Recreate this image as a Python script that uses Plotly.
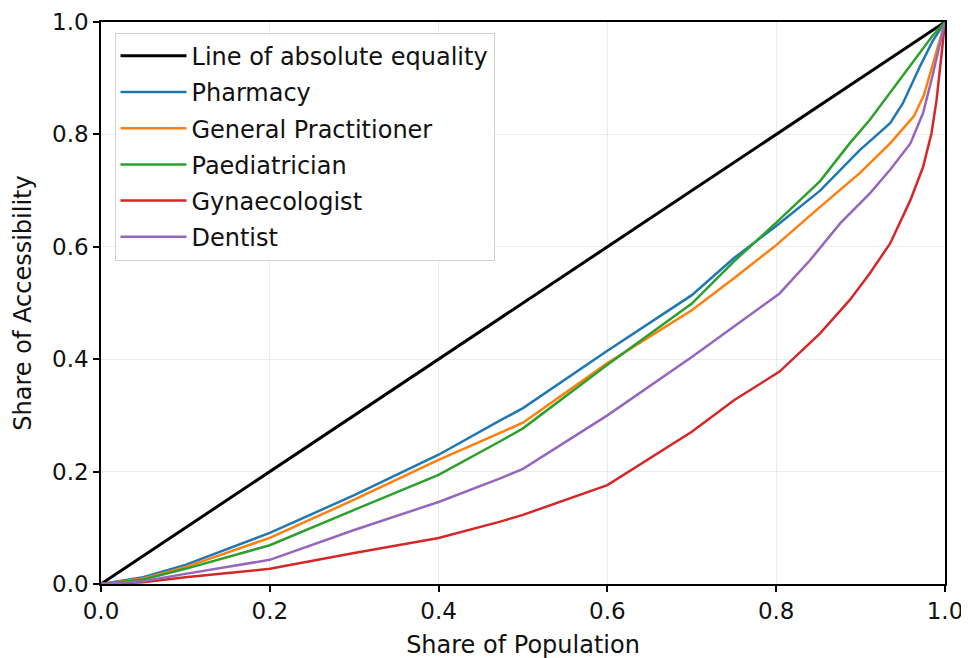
import plotly.graph_objects as go

# Line of absolute equality
eq_x = [0.0, 1.0]
eq_y = [0.0, 1.0]

# Pharmacy
pharm_x = [0.0, 0.05, 0.1, 0.2, 0.3, 0.4, 0.473, 0.5, 0.6, 0.7, 0.75, 0.8, 0.852, 0.899, 0.935, 0.95, 0.97, 0.985, 1.0]
pharm_y = [0.0, 0.012, 0.034, 0.091, 0.158, 0.230, 0.291, 0.313, 0.415, 0.514, 0.580, 0.637, 0.700, 0.772, 0.820, 0.855, 0.920, 0.965, 1.0]

# General Practitioner
gp_x = [0.0, 0.05, 0.1, 0.2, 0.3, 0.4, 0.473, 0.5, 0.6, 0.7, 0.75, 0.8, 0.852, 0.899, 0.935, 0.963, 0.975, 0.988, 1.0]
gp_y = [0.0, 0.010, 0.030, 0.082, 0.150, 0.221, 0.269, 0.287, 0.393, 0.487, 0.544, 0.603, 0.671, 0.731, 0.784, 0.832, 0.870, 0.940, 1.0]

# Paediatrician
paed_x = [0.0, 0.05, 0.1, 0.2, 0.3, 0.4, 0.473, 0.5, 0.6, 0.7, 0.75, 0.8, 0.852, 0.887, 0.911, 0.94, 0.97, 0.985, 1.0]
paed_y = [0.0, 0.008, 0.027, 0.069, 0.132, 0.194, 0.254, 0.277, 0.390, 0.499, 0.574, 0.643, 0.717, 0.784, 0.826, 0.885, 0.945, 0.975, 1.0]

# Gynaecologist
gyn_x = [0.0, 0.05, 0.1, 0.2, 0.3, 0.4, 0.473, 0.5, 0.6, 0.7, 0.75, 0.804, 0.852, 0.887, 0.911, 0.935, 0.959, 0.974, 0.984, 0.99, 0.995, 1.0]
gyn_y = [0.0, 0.003, 0.012, 0.027, 0.055, 0.082, 0.111, 0.123, 0.176, 0.271, 0.327, 0.378, 0.446, 0.505, 0.553, 0.606, 0.683, 0.742, 0.802, 0.861, 0.930, 1.0]

# Dentist
dent_x = [0.0, 0.05, 0.1, 0.2, 0.3, 0.4, 0.473, 0.5, 0.6, 0.7, 0.75, 0.804, 0.84, 0.876, 0.911, 0.935, 0.959, 0.974, 0.985, 1.0]
dent_y = [0.0, 0.005, 0.018, 0.043, 0.096, 0.146, 0.188, 0.205, 0.300, 0.404, 0.458, 0.517, 0.576, 0.642, 0.695, 0.737, 0.784, 0.838, 0.903, 1.0]

series = [
    ("Line of absolute equality", eq_x, eq_y, "#000000", 3),
    ("Pharmacy", pharm_x, pharm_y, "#1f77b4", 2.5),
    ("General Practitioner", gp_x, gp_y, "#ff7f0e", 2.5),
    ("Paediatrician", paed_x, paed_y, "#2ca02c", 2.5),
    ("Gynaecologist", gyn_x, gyn_y, "#d62728", 2.5),
    ("Dentist", dent_x, dent_y, "#9467bd", 2.5),
]

fig = go.Figure()
for i, (name, xs, ys, col, w) in enumerate(series):
    fig.add_trace(go.Scatter(x=xs, y=ys, mode="lines", name=name,
                             line=dict(color=col, width=w),
                             legendgroup=f"g{i}"))

font_family = "DejaVu Sans"
fs_tick = 23
fs = 24
txt = "#111111"
axis_common = dict(
    range=[0, 1], dtick=0.2, tick0=0, tickformat=".1f",
    showline=True, linecolor="#000000", linewidth=1.5, mirror=True,
    ticks="outside", ticklen=6, tickwidth=1.5, tickcolor="#000000",
    showgrid=True, gridcolor="#ebebeb", gridwidth=1,
    zeroline=False, automargin=False,
    tickfont=dict(family=font_family, size=fs_tick, color=txt),
)

fig.update_layout(
    width=969, height=658,
    margin=dict(l=93, r=32, t=14, b=82),
    paper_bgcolor="white", plot_bgcolor="white",
    font=dict(family=font_family, size=fs, color=txt),
    showlegend=True,
    legend=dict(x=0.016, y=0.981, xanchor="left", yanchor="top",
                bgcolor="rgba(255,255,255,0.85)", bordercolor="#d0d0d0", borderwidth=1,
                font=dict(family=font_family, size=fs, color=txt),
                itemwidth=66,
                tracegroupgap=2, traceorder="grouped"),
    xaxis=dict(title=dict(text="Share of Population", standoff=13,
                          font=dict(family=font_family, size=fs, color=txt)),
               **axis_common),
    yaxis=dict(title=dict(text="Share of Accessibility", standoff=14,
                          font=dict(family=font_family, size=fs, color=txt)),
               **axis_common),
)

fig.write_html("out.html")
